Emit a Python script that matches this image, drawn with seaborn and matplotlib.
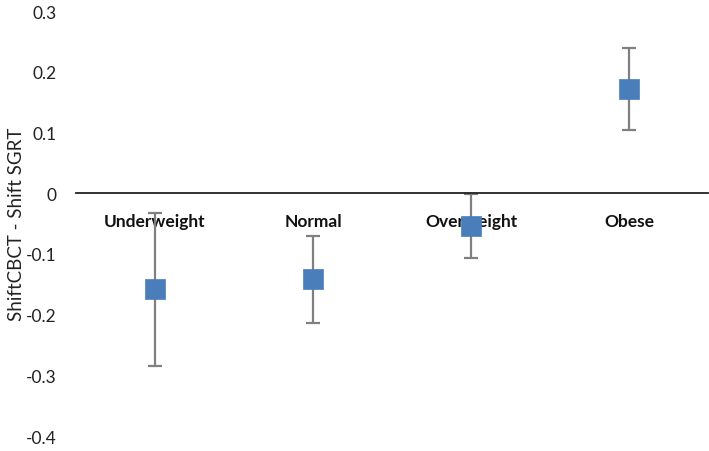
import numpy as np
import pandas as pd
import matplotlib
matplotlib.use("Agg")
import matplotlib.pyplot as plt
import seaborn as sns

# ── Data ──────────────────────────────────────────────────────────────────────
categories = ["Underweight", "Normal", "Overweight", "Obese"]
mean_diff  = [-0.158, -0.142, -0.054, 0.172]
err        = [0.126, 0.072, 0.053, 0.068]
y_ticks    = [0.3, 0.2, 0.1, 0, -0.1, -0.2, -0.3, -0.4]

df = pd.DataFrame({"group": categories, "diff": mean_diff, "err": err})

sns.set_theme(style="white")
plt.rcParams["font.family"] = ["Lato", "DejaVu Sans"]

fig = plt.figure(figsize=(7.09, 4.52), dpi=100)
ax = fig.add_axes([0.107, 0.033, 0.892, 0.94])

# error bars first so squares sit on top
ax.errorbar(np.arange(len(df)), df["diff"], yerr=df["err"], fmt="none",
            ecolor="#808080", elinewidth=1.6, capsize=5, capthick=1.6, zorder=2)
sns.scatterplot(data=df, x="group", y="diff", marker="s", s=190,
                color="#4A7EBB", edgecolor="#4A7EBB", linewidth=0.5,
                ax=ax, zorder=3, legend=False)

ax.set_xlim(-0.5, len(categories) - 0.5)
ax.set_ylim(-0.4, 0.3)
ax.set_yticks(y_ticks)
ax.set_yticklabels([f"{t:g}" for t in y_ticks], fontsize=12.5, color="#222222")

# category axis crosses at zero
for s in ["left", "right", "top"]:
    ax.spines[s].set_visible(False)
ax.spines["bottom"].set_position(("data", 0))
ax.spines["bottom"].set_color("#222222")
ax.spines["bottom"].set_linewidth(1.3)
ax.tick_params(axis="x", length=0, pad=14)
ax.tick_params(axis="y", length=0, pad=14)
for lbl in ax.get_xticklabels():
    lbl.set_fontweight("bold")
    lbl.set_fontsize(12.5)
    lbl.set_color("#111111")

ax.set_xlabel("")
ax.set_ylabel("ShiftCBCT - Shift SGRT", fontsize=13.5, color="#222222")
ax.yaxis.set_label_coords(-0.08, 0.50)
ax.grid(False)

fig.savefig("out.png", dpi=100)
